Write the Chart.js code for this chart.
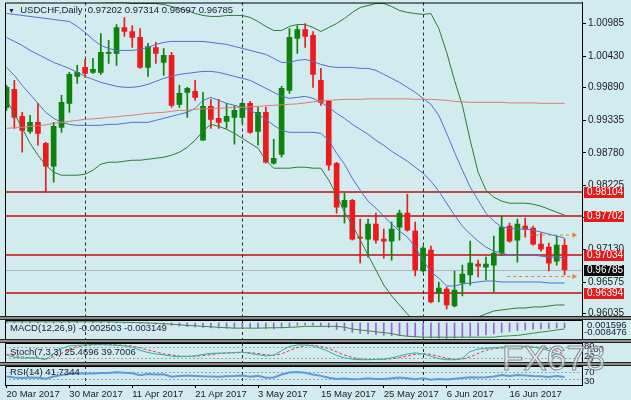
<!DOCTYPE html>
<html>
<head>
<meta charset="utf-8">
<script src="https://cdn.jsdelivr.net/npm/chart.js@4.4.1/dist/chart.umd.min.js"></script>
<style>
  html, body { margin: 0; padding: 0; background: #d1ebef; }
  #wrap { position: relative; width: 631px; height: 400px; overflow: hidden; background: #d1ebef; font-family: "Liberation Sans", Arial, sans-serif; }
  #wrap canvas { position: absolute; left: 0; }
  .sep { position: absolute; left: 0; width: 631px; height: 2px; background: #8a8a8a; border-top: 1px solid #222; border-bottom: 1px solid #222; z-index: 5; }
  .lbl { position: absolute; font-size: 9.5px; line-height: 10px; color: #20203a; white-space: pre; z-index: 6; }
  #wm { position: absolute; left: 502px; top: 338px; font-size: 35px; line-height: 40px; color: rgba(240,244,245,0.6); -webkit-text-stroke: 1px rgba(120,125,128,0.85); z-index: 7; }
</style>
</head>
<body>
<div id="wrap">
  <canvas id="cMain" width="631" height="320" style="top:0"></canvas>
  <canvas id="cMacd" width="631" height="19" style="top:320px"></canvas>
  <canvas id="cStoch" width="631" height="19" style="top:343px"></canvas>
  <canvas id="cRsi" width="631" height="34" style="top:366px"></canvas>
  <div class="sep" style="top:316px"></div>
  <div class="sep" style="top:339px"></div>
  <div class="sep" style="top:362px"></div>
  <div class="lbl" style="left:8px;top:5px"><span style="font-size:7px">▼</span>  USDCHF,Daily  0.97202 0.97314 0.96697 0.96785</div>
  <div class="lbl" style="left:10px;top:323px">MACD(12,26,9) -0.002503 -0.003149</div>
  <div class="lbl" style="left:10px;top:347px">Stoch(7,3,3) 25.4696 39.7006</div>
  <div class="lbl" style="left:10px;top:367px">RSI(14) 41.7344</div>
  <div class="lbl" style="left:587px;top:320px">0.001596</div>
  <div class="lbl" style="left:584px;top:327px">-0.008476</div>
  <div class="lbl" style="left:584px;top:341px">80</div>
  <div class="lbl" style="left:588px;top:344px">100</div>
  <div class="lbl" style="left:584px;top:351px">20</div>
  <div class="lbl" style="left:588px;top:354px">0</div>
  <div class="lbl" style="left:584px;top:367px">70</div>
  <div class="lbl" style="left:584px;top:376px">30</div>
  <div id="wm">FX678</div>
</div>
<script>
// daily candles, 20 Mar 2017 .. 27 Jun 2017
const opens = [0.99555,0.99861,0.99401,0.99146,0.99299,0.98942,0.98550,0.99214,0.99623,1.00083,
  1.00236,1.00151,1.00151,1.00474,1.00474,1.00917,1.00849,1.00747,1.00236,1.00576,
  1.00321,1.00440,0.99606,0.99810,0.99827,0.98993,0.99572,0.99367,0.99316,0.99384,
  0.99384,0.99623,0.99146,0.99470,0.98601,0.98754,0.99844,1.00730,1.00883,1.00781,
  1.00015,0.99657,0.98601,0.97852,0.97971,0.97341,0.97307,0.97563,0.97307,0.97273,
  0.97512,0.97750,0.97444,0.96763,0.97120,0.96388,0.96456,0.96167,0.96559,0.96695,
  0.96882,0.96831,0.96865,0.97069,0.97529,0.97290,0.97529,0.97495,0.97222,0.97171,
  0.96933,0.97202];
const highs = [0.99929,1.00015,0.99470,0.99418,0.99623,0.98959,0.99299,0.99759,1.00151,1.00270,
  1.00372,1.00389,1.00815,1.00696,1.00968,1.01087,1.00951,1.00900,1.00645,1.00662,
  1.00559,1.00491,0.99929,0.99895,1.00015,0.99810,0.99691,0.99691,0.99623,0.99589,
  0.99640,0.99657,0.99555,0.99555,0.99010,0.99912,1.00900,1.00951,1.00985,1.00849,
  1.00219,0.99674,0.98618,0.98090,0.97988,0.97648,0.97648,0.97750,0.97478,0.97597,
  0.97801,0.98073,0.97597,0.97188,0.97188,0.96576,0.96490,0.96763,0.96865,0.97273,
  0.96950,0.97001,0.97358,0.97699,0.97580,0.97648,0.97665,0.97529,0.97409,0.97239,
  0.97358,0.97314];
const lows = [0.99504,0.99197,0.98789,0.99112,0.98908,0.98104,0.98278,0.99129,0.99470,0.99963,
  1.00066,1.00134,1.00117,1.00304,1.00270,1.00764,1.00576,1.00219,1.00083,1.00304,
  1.00100,0.99555,0.99555,0.99384,0.99674,0.98993,0.99197,0.99197,0.99197,0.98925,
  0.99282,0.99112,0.98908,0.98601,0.98584,0.98703,0.99793,1.00474,1.00576,0.99895,
  0.99589,0.98482,0.97750,0.97580,0.97290,0.96899,0.97001,0.97239,0.96984,0.96950,
  0.97290,0.97444,0.96678,0.96746,0.96218,0.96235,0.96116,0.96150,0.96337,0.96524,
  0.96661,0.96610,0.96405,0.97035,0.97256,0.96916,0.97341,0.97205,0.97103,0.96763,
  0.96865,0.96697];
const closes = [0.99895,0.99384,0.99163,0.99299,0.99112,0.98550,0.99231,0.99640,1.00117,1.00151,
  1.00134,1.00202,1.00491,1.00491,1.00917,1.00849,1.00747,1.00236,1.00593,1.00474,
  1.00440,0.99589,0.99793,0.99878,0.99725,0.99572,0.99350,0.99299,0.99401,0.99504,
  0.99623,0.99129,0.99470,0.98618,0.98686,0.99878,1.00747,1.00883,1.00764,1.00117,
  0.99640,0.98567,0.97852,0.97971,0.97307,0.97324,0.97563,0.97290,0.97273,0.97478,
  0.97750,0.97461,0.96780,0.97154,0.96235,0.96473,0.96184,0.96439,0.96712,0.96899,
  0.96848,0.96882,0.97069,0.97512,0.97273,0.97563,0.97478,0.97222,0.97137,0.96899,
  0.97205,0.96785];

// indicator lines
const maRed = [0.99197,0.99206,0.99214,0.99231,0.99240,0.99257,0.99282,0.99299,0.99316,0.99333,
  0.99350,0.99359,0.99367,0.99385,0.99393,0.99410,0.99419,0.99436,0.99453,0.99461,
  0.99470,0.99487,0.99504,0.99504,0.99521,0.99529,0.99538,0.99538,0.99546,0.99555,
  0.99555,0.99563,0.99572,0.99580,0.99589,0.99597,0.99606,0.99614,0.99631,0.99648,
  0.99665,0.99674,0.99683,0.99691,0.99691,0.99691,0.99700,0.99700,0.99700,0.99700,
  0.99700,0.99700,0.99691,0.99691,0.99691,0.99683,0.99674,0.99657,0.99648,0.99640,
  0.99640,0.99640,0.99640,0.99640,0.99631,0.99631,0.99631,0.99631,0.99623,0.99623,
  0.99623,0.99623];
const bandMid = [1.00747,1.00679,1.00611,1.00526,1.00458,1.00389,1.00321,1.00270,1.00219,1.00151,
  1.00083,1.00032,0.99981,0.99947,0.99913,0.99896,0.99896,0.99913,0.99947,0.99998,
  1.00049,1.00083,1.00117,1.00134,1.00151,1.00168,1.00168,1.00151,1.00117,1.00083,
  1.00049,1.00015,0.99947,0.99879,0.99811,0.99742,0.99708,0.99725,0.99742,0.99708,
  0.99640,0.99555,0.99453,0.99367,0.99265,0.99180,0.99095,0.98993,0.98908,0.98806,
  0.98721,0.98636,0.98534,0.98431,0.98295,0.98125,0.97920,0.97716,0.97529,0.97393,
  0.97273,0.97171,0.97103,0.97069,0.97035,0.97035,0.97035,0.97035,0.97018,0.97001,
  0.97001,0.96984];
const bandUp1 = [1.01156,1.01139,1.01122,1.01105,1.01088,1.01071,1.01054,1.01036,1.01019,1.00934,
  1.00832,1.00713,1.00611,1.00560,1.00526,1.00526,1.00526,1.00543,1.00577,1.00628,
  1.00662,1.00679,1.00679,1.00679,1.00679,1.00679,1.00662,1.00645,1.00628,1.00594,
  1.00560,1.00526,1.00492,1.00458,1.00389,1.00321,1.00321,1.00355,1.00372,1.00338,
  1.00287,1.00253,1.00236,1.00236,1.00236,1.00219,1.00219,1.00185,1.00117,1.00049,
  0.99981,0.99896,0.99811,0.99708,0.99606,0.99419,0.99112,0.98789,0.98483,0.98193,
  0.97972,0.97750,0.97614,0.97512,0.97495,0.97478,0.97478,0.97461,0.97427,0.97393,
  0.97359,0.97325];
const bandLo1 = [1.00236,1.00100,0.99930,0.99777,0.99623,0.99470,0.99367,0.99299,0.99265,0.99248,
  0.99248,0.99248,0.99248,0.99265,0.99265,0.99282,0.99299,0.99299,0.99299,0.99333,
  0.99367,0.99402,0.99436,0.99470,0.99538,0.99674,0.99725,0.99674,0.99623,0.99589,
  0.99555,0.99504,0.99436,0.99350,0.99248,0.99163,0.99129,0.99129,0.99129,0.99129,
  0.99112,0.98993,0.98772,0.98585,0.98346,0.98142,0.97955,0.97835,0.97699,0.97563,
  0.97444,0.97342,0.97171,0.96950,0.96746,0.96644,0.96508,0.96508,0.96542,0.96559,
  0.96576,0.96593,0.96593,0.96576,0.96576,0.96576,0.96576,0.96576,0.96576,0.96559,
  0.96559,0.96559];
const bandUp2 = [1.01718,1.01752,1.01786,1.01820,1.01854,1.01854,1.01820,1.01752,1.01649,1.01547,
  1.01462,1.01394,1.01360,1.01343,1.01343,1.01343,1.01326,1.01326,1.01326,1.01326,
  1.01309,1.01275,1.01241,1.01207,1.01156,1.01122,1.01105,1.01105,1.01122,1.01122,
  1.01122,1.01088,1.01019,1.00934,1.00866,1.00866,1.00934,1.00968,1.00968,1.00917,
  1.00849,1.00917,1.00985,1.01071,1.01173,1.01258,1.01292,1.01326,1.01326,1.01275,
  1.01207,1.01173,1.01156,1.01139,1.01156,1.00900,1.00492,1.00015,0.99589,0.98993,
  0.98449,0.98142,0.98023,0.97955,0.97920,0.97920,0.97920,0.97903,0.97869,0.97818,
  0.97767,0.97716];
const bandLo2 = [0.99674,0.99453,0.99197,0.98942,0.98738,0.98568,0.98449,0.98397,0.98397,0.98397,
  0.98414,0.98483,0.98585,0.98619,0.98619,0.98636,0.98653,0.98653,0.98670,0.98687,
  0.98704,0.98738,0.98789,0.98874,0.98993,0.99146,0.99265,0.99231,0.99180,0.99112,
  0.99027,0.98942,0.98857,0.98653,0.98517,0.98517,0.98517,0.98534,0.98534,0.98517,
  0.98517,0.98312,0.98057,0.97767,0.97546,0.97291,0.97035,0.96780,0.96525,0.96337,
  0.96184,0.96031,0.95894,0.95724,0.95588,0.95503,0.95417,0.95503,0.95673,0.95843,
  0.95980,0.96031,0.96082,0.96099,0.96116,0.96133,0.96133,0.96150,0.96150,0.96167,
  0.96184,0.96184];

// sub windows
const macdMain = [0.0008,0.0007,0.0006,0.0006,0.0005,0.0003,0.0004,0.0006,0.0008,0.0009,
  0.0008,0.0007,0.0007,0.0006,0.0005,0.0003,0.0001,-0.0002,-0.0004,-0.0006,
  -0.0008,-0.0013,-0.0016,-0.0019,-0.0021,-0.0024,-0.0026,-0.0027,-0.0028,-0.0028,
  -0.0027,-0.0028,-0.0027,-0.0029,-0.0031,-0.0026,-0.0018,-0.0012,-0.0010,-0.0011,
  -0.0015,-0.0024,-0.0035,-0.0042,-0.0050,-0.0055,-0.0058,-0.0062,-0.0065,-0.0068,
  -0.0068,-0.0070,-0.0074,-0.0075,-0.0079,-0.0080,-0.0082,-0.0080,-0.0077,-0.0072,
  -0.0068,-0.0063,-0.0057,-0.0050,-0.0045,-0.0040,-0.0036,-0.0033,-0.0031,-0.0030,
  -0.0027,-0.002503];
const macdSignal = [0.00064,0.00064,0.00064,0.00064,0.00064,0.00064,0.00064,0.00064,0.00064,0.00064,
  0.00064,0.00064,0.00064,0.00064,0.00052,0.00040,0.00030,0.00016,0.00000,-0.00016,
  -0.00032,-0.00060,-0.00095,-0.00128,-0.00150,-0.00176,-0.00200,-0.00230,-0.00250,-0.00272,
  -0.00272,-0.00272,-0.00272,-0.00260,-0.00250,-0.00248,-0.00230,-0.00210,-0.00176,-0.00176,
  -0.00176,-0.00176,-0.00176,-0.00220,-0.00320,-0.00370,-0.00416,-0.00464,-0.00512,-0.00560,
  -0.00656,-0.00700,-0.00728,-0.00752,-0.00752,-0.00752,-0.00752,-0.00752,-0.00752,-0.00752,
  -0.00752,-0.00752,-0.00752,-0.00704,-0.00680,-0.00656,-0.00600,-0.00540,-0.00480,-0.00430,
  -0.00370,-0.003149];
const stochMain = [35,25,20,22,20,12,45,70,85,88,
  90,92,92,90,88,85,78,62,50,42,
  38,30,28,30,32,40,45,47,48,50,
  52,45,38,32,36,60,82,90,90,85,
  72,55,35,22,15,12,12,14,15,22,
  32,42,48,42,30,18,12,12,20,55,
  68,72,75,78,80,80,80,78,72,60,
  42,25.4696];
const stochSignal = [40,33,27,22,21,18,28,45,67,81,
  86,90,91,91,90,88,84,75,63,53,
  43,37,32,29,30,34,39,44,47,48,
  50,49,45,38,35,43,60,77,87,88,
  82,71,54,37,24,16,13,13,14,17,
  23,32,40,44,40,30,20,14,15,28,
  45,62,70,74,77,79,80,79,77,70,
  58,39.7006];
const rsi = [45,40,37,40,38,33,45,52,58,60,
  60,60,63,63,67,65,62,52,58,55,
  56,44,48,50,48,46,45,44,46,47,
  50,44,48,38,40,55,66,68,64,55,
  48,38,32,34,30,31,35,32,32,36,
  40,36,30,36,28,31,29,33,37,41,
  40,41,45,52,48,52,50,47,46,42,
  47,41.7344];

// axis labels and levels
const dateLabels = ['20 Mar 2017','30 Mar 2017','11 Apr 2017','21 Apr 2017','3 May 2017','15 May 2017','25 May 2017','6 Jun 2017','16 Jun 2017'];
const dateIdx = [0, 8, 16, 24, 32, 40, 48, 56, 64];
const monthStartIdx = [10, 30, 53];
const priceTicks = [1.00985, 1.00430, 0.99890, 0.99335, 0.98780, 0.98225, 0.97670, 0.97130, 0.96575, 0.96035];
const hLevels = [0.98104, 0.97702, 0.97034, 0.96394];
const lastPrice = 0.96785;
const arrowLevels = [0.97377, 0.96670];
const arrowFrom = [66.6, 63.7];
const arrowTo = 72.2;

const X_MIN = -0.19, X_MAX = 73.22;
const ix = closes.map((_, i) => i);
const UP = '#0d820d', DN = '#ec1a1a';
const candleCol = ix.map(i => closes[i] >= opens[i] ? UP : DN);
const FONT = 'Liberation Sans';

function pts(arr) { return ix.map(i => ({ x: i, y: arr[i] })); }
function lineDs(arr, color, width) {
  return { type: 'line', data: pts(arr), borderColor: color, borderWidth: width || 1, pointRadius: 0, tension: 0, order: 0 };
}

function drawSeps(chart) {
  const { ctx, chartArea: a, scales: { x } } = chart;
  ctx.save();
  ctx.strokeStyle = '#2a2a2a';
  ctx.lineWidth = 1;
  ctx.setLineDash([3, 3]);
  monthStartIdx.forEach(i => {
    const px = Math.round(x.getPixelForValue(i)) + 0.5;
    ctx.beginPath(); ctx.moveTo(px, a.top); ctx.lineTo(px, a.bottom); ctx.stroke();
  });
  ctx.restore();
}
function drawFrame(chart) {
  const { ctx, chartArea: a } = chart;
  ctx.save();
  ctx.strokeStyle = '#000';
  ctx.lineWidth = 1;
  ctx.beginPath();
  ctx.moveTo(a.left + 0.5, a.bottom); ctx.lineTo(a.left + 0.5, a.top + 0.5); ctx.lineTo(a.right, a.top + 0.5);
  ctx.stroke();
  ctx.restore();
}

const mainDecor = {
  id: 'mainDecor',
  beforeDatasetsDraw(chart) {
    const { ctx, chartArea: a, scales: { y } } = chart;
    ctx.save();
    let py = Math.round(y.getPixelForValue(lastPrice)) + 0.5;
    ctx.strokeStyle = '#aab6ba';
    ctx.lineWidth = 1;
    ctx.beginPath(); ctx.moveTo(a.left, py); ctx.lineTo(a.right, py); ctx.stroke();
    ctx.strokeStyle = '#c94444';
    ctx.lineWidth = 2;
    hLevels.forEach(v => {
      py = Math.round(y.getPixelForValue(v));
      ctx.beginPath(); ctx.moveTo(a.left, py); ctx.lineTo(a.right, py); ctx.stroke();
    });
    ctx.restore();
    drawSeps(chart);
  },
  afterDraw(chart) {
    const { ctx, chartArea: a, scales: { y } } = chart;
    drawFrame(chart);
    ctx.save();
    ctx.font = '10px ' + FONT;
    ctx.textBaseline = 'middle';
    const box = (v, bg) => {
      const py = Math.round(y.getPixelForValue(v));
      ctx.fillStyle = bg;
      ctx.fillRect(a.right + 2, py - 5, 40, 11);
      ctx.fillStyle = '#fff';
      ctx.fillText(v.toFixed(5), a.right + 5, py + 0.5);
    };
    hLevels.forEach(v => box(v, '#e41b1b'));
    box(lastPrice, '#0c0c0c');
    ctx.restore();
  }
};

function subDecor(levels) {
  return {
    id: 'subDecor',
    beforeDatasetsDraw(chart) {
      const { ctx, chartArea: a, scales: { y } } = chart;
      ctx.save();
      ctx.strokeStyle = '#9aa4a8';
      ctx.lineWidth = 1;
      ctx.setLineDash([2, 2]);
      levels.forEach(v => {
        const py = Math.round(y.getPixelForValue(v)) + 0.5;
        ctx.beginPath(); ctx.moveTo(a.left, py); ctx.lineTo(a.right, py); ctx.stroke();
      });
      ctx.restore();
      drawSeps(chart);
    },
    afterDraw(chart) { drawFrame(chart); }
  };
}

function baseOptions(yMin, yMax, pad) {
  return {
    responsive: false, animation: false, events: [],
    layout: { padding: pad, autoPadding: false },
    plugins: { legend: { display: false }, tooltip: { enabled: false } },
    scales: {
      x: { type: 'linear', min: X_MIN, max: X_MAX, display: false, offset: false },
      y: {
        position: 'right', min: yMin, max: yMax,
        afterFit: s => { s.width = 49; },
        ticks: { display: false },
        grid: { drawOnChartArea: false, drawTicks: false },
        border: { color: '#000' }
      }
    }
  };
}

// main price window
const mainOpts = baseOptions(0.95979, 1.01343, { left: 5, right: 0, top: 2, bottom: 3 });
mainOpts.scales.y.afterBuildTicks = s => { s.ticks = priceTicks.map(v => ({ value: v })); };
mainOpts.scales.y.ticks = { display: true, callback: v => v.toFixed(5), font: { family: FONT, size: 10, lineHeight: 0.1 }, color: '#1c1c1c', padding: 2 };
mainOpts.scales.y.grid = { drawOnChartArea: false, drawTicks: true, tickLength: 4, color: '#000' };

const arrowSets = arrowLevels.map((v, k) => ({
  type: 'line',
  data: [{ x: arrowFrom[k], y: v }, { x: arrowTo, y: v }],
  borderColor: '#f07a28', borderWidth: 1, borderDash: [3, 3],
  pointRadius: [0, 3], pointStyle: 'triangle', rotation: 90,
  pointBackgroundColor: '#f07a28', pointBorderWidth: 0, order: 0
}));

const mainChart = new Chart(document.getElementById('cMain'), {
  type: 'bar',
  data: {
    datasets: [
      { type: 'bar', data: ix.map(i => ({ x: i, y: [lows[i], highs[i]] })), backgroundColor: candleCol, barThickness: 1, grouped: false, order: 2 },
      { type: 'bar', data: ix.map(i => ({ x: i, y: [opens[i], closes[i]] })), backgroundColor: candleCol, barThickness: 5, minBarLength: 1, grouped: false, order: 1 },
      lineDs(maRed, '#e07a6e'),
      lineDs(bandUp2, '#2f7a34'),
      lineDs(bandLo2, '#2f7a34'),
      lineDs(bandUp1, '#4f72c9'),
      lineDs(bandMid, '#4f72c9'),
      lineDs(bandLo1, '#4f72c9'),
      ...arrowSets
    ]
  },
  options: mainOpts,
  plugins: [mainDecor]
});

// MACD
new Chart(document.getElementById('cMacd'), {
  type: 'bar',
  data: {
    datasets: [
      { type: 'bar', data: pts(macdMain), backgroundColor: '#9b63d6', barThickness: 1, order: 1 },
      lineDs(macdSignal, '#3d8a3d')
    ]
  },
  options: baseOptions(-0.008476, 0.001596, { left: 5, right: 0, top: 0, bottom: 0 }),
  plugins: [subDecor([])]
});

// Stochastic
new Chart(document.getElementById('cStoch'), {
  type: 'line',
  data: {
    datasets: [
      lineDs(stochMain, '#2ab3a8'),
      Object.assign(lineDs(stochSignal, '#e23a3a'), { borderDash: [3, 2] })
    ]
  },
  options: baseOptions(0, 100, { left: 5, right: 0, top: 0, bottom: 0 }),
  plugins: [subDecor([20, 80])]
});

// RSI with the date axis
const rsiOpts = baseOptions(0, 100, { left: 5, right: 0, top: 0, bottom: 0 });
rsiOpts.scales.x = {
  type: 'linear', min: X_MIN, max: X_MAX, offset: false,
  afterBuildTicks: s => { s.ticks = dateIdx.map(v => ({ value: v })); },
  afterFit: s => { s.height = 15; },
  ticks: { callback: (v, k) => dateLabels[k], align: 'start', maxRotation: 0, autoSkip: false, font: { family: FONT, size: 9.5 }, color: '#1c1c1c', padding: 1 },
  grid: { drawOnChartArea: false, drawTicks: true, tickLength: 3, color: '#000' },
  border: { color: '#000' }
};
new Chart(document.getElementById('cRsi'), {
  type: 'line',
  data: { datasets: [lineDs(rsi, '#5b9be0', 2)] },
  options: rsiOpts,
  plugins: [subDecor([30, 70])]
});
</script>
</body>
</html>
